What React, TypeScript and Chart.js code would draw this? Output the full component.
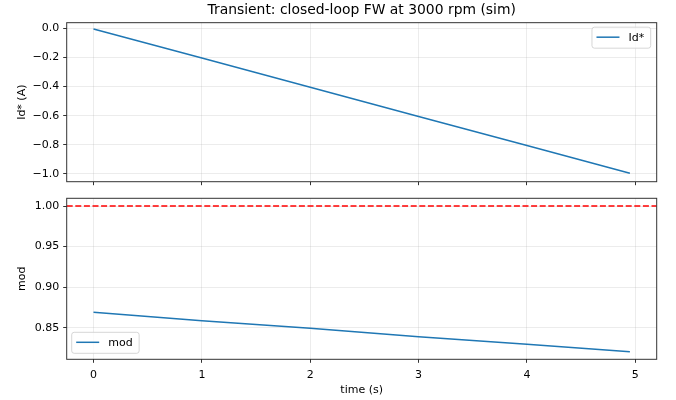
import { useEffect, useRef } from 'react'
import { Chart, registerables, type Plugin } from 'chart.js'

Chart.register(...registerables)

// ─── Data ────────────────────────────────────────────────────────────────────

const timeS   = [0, 1, 2, 3, 4, 4.95]
const idRef   = [-0.005, -0.205, -0.405, -0.605, -0.805, -0.995]
const modIdx  = [0.869, 0.8586, 0.8493, 0.8389, 0.8296, 0.8204]
const modLimit = 1.0

const xTicks   = [0, 1, 2, 3, 4, 5]
const idTicks  = [-1.0, -0.8, -0.6, -0.4, -0.2, 0.0]
const modTicks = [0.85, 0.9, 0.95, 1.0]

const X_MIN = -0.2475
const X_MAX = 5.1975
const ID_MIN = -1.053
const ID_MAX = 0.038
const MOD_MIN = 0.811
const MOD_MAX = 1.0095

// ─── Style ───────────────────────────────────────────────────────────────────

const FONT       = 'DejaVu Sans'
const BLUE       = '#1f77b4'
const RED        = '#ff0000'
const GRID       = 'rgba(176,176,176,0.3)'
const SPINE      = '#333'
const W          = 676
const TOP_H      = 190
const BOT_H      = 210
const AXIS_LEFT  = 66.7
const PAD_RIGHT  = W - 656.7

const minus = (s: string) => s.replace('-', '\u2212')

// ─── Plugins ─────────────────────────────────────────────────────────────────

const frame: Plugin = {
  id: 'frame',
  afterDatasetsDraw(chart) {
    const { ctx, chartArea: a } = chart
    ctx.save()
    ctx.strokeStyle = SPINE
    ctx.lineWidth = 1
    ctx.strokeRect(a.left, a.top, a.right - a.left, a.bottom - a.top)
    ctx.restore()
  },
}

const boxLegend: Plugin = {
  id: 'boxLegend',
  afterDraw(chart, _args, opts: any) {
    const { ctx, chartArea: a } = chart
    const items = chart.data.datasets.filter(d => d.label)
    if (!items.length) return
    ctx.save()
    ctx.font = `11px "${FONT}"`
    const pad = 4.5, handle = 23, gap = 9, rowH = 12
    const textW = Math.max(...items.map(d => ctx.measureText(d.label as string).width))
    const w = pad + handle + gap + textW + 6.5
    const h = pad * 2 + rowH * items.length
    const x = opts.corner === 'upper right' ? a.right - 6 - w : a.left + 5
    const y = opts.corner === 'upper right' ? a.top + 4.5 : a.bottom - 6 - h
    ctx.beginPath()
    ctx.roundRect(x, y, w, h, 2.5)
    ctx.fillStyle = 'rgba(255,255,255,0.8)'
    ctx.fill()
    ctx.strokeStyle = 'rgba(204,204,204,0.8)'
    ctx.lineWidth = 1
    ctx.stroke()
    items.forEach((d, i) => {
      const cy = y + pad + rowH * i + rowH / 2 - 0.5
      ctx.strokeStyle = d.borderColor as string
      ctx.lineWidth = 1.5
      ctx.beginPath()
      ctx.moveTo(x + pad, cy)
      ctx.lineTo(x + pad + handle, cy)
      ctx.stroke()
      ctx.fillStyle = '#000'
      ctx.textBaseline = 'middle'
      ctx.fillText(d.label as string, x + pad + handle + gap, cy + 0.5)
    })
    ctx.restore()
  },
}

// ─── Scale helpers ───────────────────────────────────────────────────────────

const tickFont = { family: FONT, size: 11 }

function xScale(labels: boolean, height: number) {
  return {
    type: 'linear' as const,
    min: X_MIN,
    max: X_MAX,
    afterBuildTicks: (s: any) => { s.ticks = xTicks.map(v => ({ value: v })) },
    afterFit: (s: any) => {
      s.height = height
      s.paddingLeft = 0
      s.paddingRight = 0
    },
    ticks: {
      display: labels,
      color: '#000',
      font: tickFont,
      padding: 5.5,
      maxRotation: 0,
      autoSkip: false,
      callback: (v: any) => String(v),
    },
    grid: { color: GRID, lineWidth: 0.8, drawTicks: true, tickLength: 3.5, tickColor: SPINE, tickWidth: 1 },
    border: { display: false },
    title: {
      display: labels,
      text: 'time (s)',
      color: '#000',
      font: { family: FONT, size: 11 },
      padding: { top: 0, bottom: 3 },
    },
  }
}

function yScale(min: number, max: number, ticks: number[], digits: number, label: string) {
  return {
    type: 'linear' as const,
    min,
    max,
    afterBuildTicks: (s: any) => { s.ticks = ticks.map(v => ({ value: v })) },
    afterFit: (s: any) => {
      s.width = AXIS_LEFT
      s.paddingTop = 0
      s.paddingBottom = 0
    },
    ticks: {
      color: '#000',
      font: tickFont,
      padding: 4,
      callback: (v: any) => minus(Number(v).toFixed(digits)),
    },
    grid: { color: GRID, lineWidth: 0.8, drawTicks: true, tickLength: 3.5, tickColor: SPINE, tickWidth: 1 },
    border: { display: false },
    title: {
      display: true,
      text: label,
      color: '#000',
      font: { family: FONT, size: 11 },
      padding: { top: 16, bottom: 0 },
    },
  }
}

// ─── Component ───────────────────────────────────────────────────────────────

export default function App() {
  const topRef = useRef<HTMLCanvasElement>(null)
  const botRef = useRef<HTMLCanvasElement>(null)

  useEffect(() => {
    if (!topRef.current || !botRef.current) return

    const top = new Chart(topRef.current, {
      type: 'line',
      data: {
        datasets: [
          {
            label: 'Id*',
            data: timeS.map((t, i) => ({ x: t, y: idRef[i] })),
            borderColor: BLUE,
            borderWidth: 1.5,
            pointRadius: 0,
            tension: 0,
          },
        ],
      },
      options: {
        animation: false,
        responsive: true,
        maintainAspectRatio: false,
        layout: { padding: { top: 0, left: 0, right: PAD_RIGHT, bottom: 0 } },
        plugins: {
          legend: { display: false },
          tooltip: { enabled: false },
          title: {
            display: true,
            text: 'Transient: closed-loop FW at 3000 rpm (sim)',
            color: '#000',
            font: { family: FONT, size: 13.9, weight: 'normal' },
            padding: { top: 2.5, bottom: 3.5 },
            fullSize: false,
          },
          boxLegend: { corner: 'upper right' },
        } as any,
        scales: {
          x: xScale(false, TOP_H - 181.7),
          y: yScale(ID_MIN, ID_MAX, idTicks, 1, 'Id* (A)'),
        } as any,
      },
      plugins: [frame, boxLegend],
    })

    const bot = new Chart(botRef.current, {
      type: 'line',
      data: {
        datasets: [
          {
            label: 'mod',
            data: timeS.map((t, i) => ({ x: t, y: modIdx[i] })),
            borderColor: BLUE,
            borderWidth: 1.5,
            pointRadius: 0,
            tension: 0,
          },
          {
            label: '',
            data: [{ x: X_MIN, y: modLimit }, { x: X_MAX, y: modLimit }],
            borderColor: RED,
            borderWidth: 1.5,
            borderDash: [6, 2.6],
            pointRadius: 0,
          },
        ],
      },
      options: {
        animation: false,
        responsive: true,
        maintainAspectRatio: false,
        layout: { padding: { top: 198.3 - TOP_H, left: 0, right: PAD_RIGHT, bottom: 0 } },
        plugins: {
          legend: { display: false },
          tooltip: { enabled: false },
          boxLegend: { corner: 'lower left' },
        } as any,
        scales: {
          x: xScale(true, BOT_H - (359.3 - TOP_H)),
          y: yScale(MOD_MIN, MOD_MAX, modTicks, 2, 'mod'),
        } as any,
      },
      plugins: [frame, boxLegend],
    })

    return () => {
      top.destroy()
      bot.destroy()
    }
  }, [])

  return (
    <div style={{ position: 'absolute', left: 0, top: 0, width: W, height: TOP_H + BOT_H, background: '#fff' }}>
      <div style={{ position: 'absolute', left: 0, top: 0, width: W, height: TOP_H }}>
        <canvas ref={topRef} />
      </div>
      <div style={{ position: 'absolute', left: 0, top: TOP_H, width: W, height: BOT_H }}>
        <canvas ref={botRef} />
      </div>
    </div>
  )
}
